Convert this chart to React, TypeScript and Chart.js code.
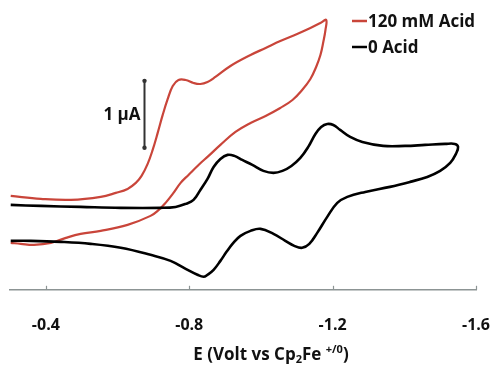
import React, { useEffect, useRef } from 'react';
import { Chart, registerables } from 'chart.js';

Chart.register(...registerables);

// x-axis ticks (Volt vs Cp2Fe+/0)
const X_TICKS = [-0.4, -0.8, -1.2, -1.6];

// 0 Acid (black) – potential (V) and current (µA)
const BLACK_E = [
  -0.302, -0.386, -0.497, -0.609, -0.72, -0.762, -0.79, -0.812, -0.831, -0.851, -0.868, -0.887, -0.907,
  -0.926, -0.948, -0.976, -1.007, -1.035, -1.06, -1.085, -1.11, -1.132, -1.152, -1.168, -1.185, -1.202,
  -1.221, -1.249, -1.283, -1.341, -1.402, -1.458, -1.514, -1.541, -1.55, -1.544, -1.528, -1.5, -1.464,
  -1.416, -1.36, -1.291, -1.241, -1.213, -1.185, -1.157, -1.135, -1.115, -1.093, -1.068, -1.035, -0.999,
  -0.971, -0.943, -0.923, -0.904, -0.887, -0.868, -0.851, -0.84, -0.823, -0.79, -0.748, -0.692, -0.609,
  -0.525, -0.442, -0.358, -0.302,
];
const BLACK_I = [
  0.537, 0.522, 0.507, 0.493, 0.493, 0.507, 0.552, 0.612, 0.761, 0.925, 1.104, 1.224, 1.284,
  1.269, 1.209, 1.134, 1.045, 1.015, 1.045, 1.119, 1.239, 1.403, 1.597, 1.701, 1.746, 1.731,
  1.657, 1.552, 1.478, 1.418, 1.418, 1.433, 1.448, 1.448, 1.403, 1.299, 1.164, 1.045, 0.955,
  0.881, 0.806, 0.731, 0.657, 0.567, 0.358, 0.119, -0.045, -0.104, -0.075, 0.0, 0.104, 0.179,
  0.149, 0.075, -0.03, -0.164, -0.299, -0.433, -0.507, -0.537, -0.507, -0.418, -0.299, -0.209, -0.104,
  -0.045, -0.015, 0.0, 0.0,
];

// 120 mM Acid (red) – potential (V) and current (µA)
const RED_E = [
  -0.302, -0.386, -0.47, -0.553, -0.595, -0.628, -0.651, -0.667, -0.684, -0.698, -0.712, -0.726, -0.74,
  -0.754, -0.77, -0.79, -0.812, -0.831, -0.851, -0.873, -0.915, -0.971, -1.013, -1.054, -1.101, -1.138,
  -1.166, -1.182, -1.18, -1.174, -1.166, -1.154, -1.138, -1.115, -1.088, -1.054, -1.013, -0.971, -0.929,
  -0.887, -0.854, -0.826, -0.798, -0.776, -0.754, -0.734, -0.715, -0.692, -0.628, -0.553, -0.497, -0.456,
  -0.414, -0.367, -0.33, -0.302,
];
const RED_I = [
  0.672, 0.627, 0.612, 0.657, 0.716, 0.776, 0.866, 0.97, 1.149, 1.358, 1.612, 1.881, 2.119,
  2.313, 2.403, 2.403, 2.358, 2.343, 2.373, 2.448, 2.612, 2.776, 2.881, 2.985, 3.09, 3.179,
  3.254, 3.299, 3.149, 2.97, 2.776, 2.597, 2.418, 2.254, 2.104, 1.985, 1.866, 1.761, 1.627,
  1.433, 1.269, 1.134, 0.985, 0.866, 0.701, 0.567, 0.463, 0.373, 0.239, 0.149, 0.104, 0.045,
  -0.03, -0.06, -0.045, -0.03,
];

const SERIES_LABELS = ['120 mM Acid', '0 Acid'];
const SERIES_COLORS = ['#c9453a', '#000000'];
const SCALE_BAR_LABEL = '1 μA';
const SCALE_BAR_E = -0.673;
const SCALE_BAR_I0 = 1.39;

const FONT = '"Open Sans", "DejaVu Sans", sans-serif';

const overlayPlugin = {
  id: 'overlay',
  afterDraw(chart: any) {
    const ctx = chart.ctx as CanvasRenderingContext2D;
    const xs = chart.scales.x;
    const ys = chart.scales.y;
    const bottom = chart.chartArea.bottom;
    ctx.save();

    // inward tick marks
    ctx.strokeStyle = '#8c9494';
    ctx.lineWidth = 1.2;
    for (const v of X_TICKS) {
      const x = Math.round(xs.getPixelForValue(v)) + 0.5;
      ctx.beginPath();
      ctx.moveTo(x, bottom);
      ctx.lineTo(x, bottom - 4);
      ctx.stroke();
    }

    // legend
    ctx.font = `bold 17px ${FONT}`;
    ctx.textBaseline = 'middle';
    ctx.textAlign = 'left';
    const legY = [21, 47];
    SERIES_LABELS.forEach((lab, i) => {
      ctx.strokeStyle = SERIES_COLORS[i];
      ctx.lineWidth = 2.5;
      ctx.beginPath();
      ctx.moveTo(352, legY[i]);
      ctx.lineTo(367, legY[i]);
      ctx.stroke();
      ctx.fillStyle = '#111';
      ctx.fillText(lab, 368, legY[i] + 1);
    });

    // scale bar
    const bx = Math.round(xs.getPixelForValue(SCALE_BAR_E)) + 0.5;
    const by0 = ys.getPixelForValue(SCALE_BAR_I0);
    const by1 = ys.getPixelForValue(SCALE_BAR_I0 + 1);
    ctx.strokeStyle = '#333';
    ctx.fillStyle = '#333';
    ctx.lineWidth = 2;
    ctx.beginPath();
    ctx.moveTo(bx, by0);
    ctx.lineTo(bx, by1);
    ctx.stroke();
    for (const yy of [by0, by1]) {
      ctx.beginPath();
      ctx.arc(bx, yy, 2.2, 0, Math.PI * 2);
      ctx.fill();
    }
    ctx.fillStyle = '#111';
    ctx.font = `bold 17px ${FONT}`;
    ctx.textAlign = 'right';
    ctx.fillText(SCALE_BAR_LABEL, bx - 4, (by0 + by1) / 2 + 1);

    // x-axis title with subscript/superscript
    const parts: [string, string][] = [
      ['E (Volt vs Cp', 'n'],
      ['2', 'sub'],
      ['Fe ', 'n'],
      ['+/0', 'sup'],
      [')', 'n'],
    ];
    const mainFont = `bold 17px ${FONT}`;
    const smallFont = `bold 11px ${FONT}`;
    let total = 0;
    for (const [t, k] of parts) {
      ctx.font = k === 'n' ? mainFont : smallFont;
      total += ctx.measureText(t).width;
    }
    let tx = 271 - total / 2;
    const ty = 360;
    ctx.textAlign = 'left';
    ctx.textBaseline = 'alphabetic';
    for (const [t, k] of parts) {
      ctx.font = k === 'n' ? mainFont : smallFont;
      const dy = k === 'sub' ? 3 : k === 'sup' ? -7 : 0;
      ctx.fillText(t, tx, ty + dy);
      tx += ctx.measureText(t).width;
    }
    ctx.restore();
  },
};

export default function App() {
  const ref = useRef<HTMLCanvasElement>(null);
  useEffect(() => {
    document.body.style.margin = '0';
    const red = RED_E.map((e, i) => ({ x: e, y: RED_I[i] }));
    const black = BLACK_E.map((e, i) => ({ x: e, y: BLACK_I[i] }));
    const chart = new Chart(ref.current as HTMLCanvasElement, {
      type: 'line',
      data: {
        datasets: [
          {
            label: SERIES_LABELS[1],
            data: black,
            borderColor: SERIES_COLORS[1],
            borderWidth: 2.6,
            pointRadius: 0,
            tension: 0.4,
            fill: false,
          },
          {
            label: SERIES_LABELS[0],
            data: red,
            borderColor: SERIES_COLORS[0],
            borderWidth: 2.2,
            pointRadius: 0,
            tension: 0.4,
            fill: false,
          },
        ],
      },
      options: {
        animation: false,
        responsive: true,
        maintainAspectRatio: false,
        layout: { padding: { left: 10, right: 18, top: 10, bottom: 5 } },
        plugins: {
          legend: { display: false },
          tooltip: { enabled: false },
        },
        scales: {
          x: {
            type: 'linear',
            reverse: true,
            min: -1.6,
            max: -0.3,
            afterBuildTicks: (axis: any) => {
              axis.ticks = X_TICKS.map((value) => ({ value }));
            },
            afterFit: (scale: any) => {
              scale.paddingLeft = 0;
              scale.paddingRight = 0;
            },
            grid: { display: false, drawTicks: false },
            border: { display: true, color: '#8c9494', width: 1.5 },
            ticks: {
              font: { family: FONT, weight: 'bold', size: 16 },
              color: '#111',
              padding: 26,
              maxRotation: 0,
              autoSkip: false,
              callback: (v: any) => Number(v).toFixed(1),
            },
          },
          y: {
            type: 'linear',
            display: false,
            min: -0.731,
            max: 3.448,
          },
        },
      },
      plugins: [overlayPlugin],
    } as any);
    return () => chart.destroy();
  }, []);
  return (
    <div style={{ width: 494, height: 366, position: 'relative' }}>
      <canvas ref={ref} />
    </div>
  );
}
